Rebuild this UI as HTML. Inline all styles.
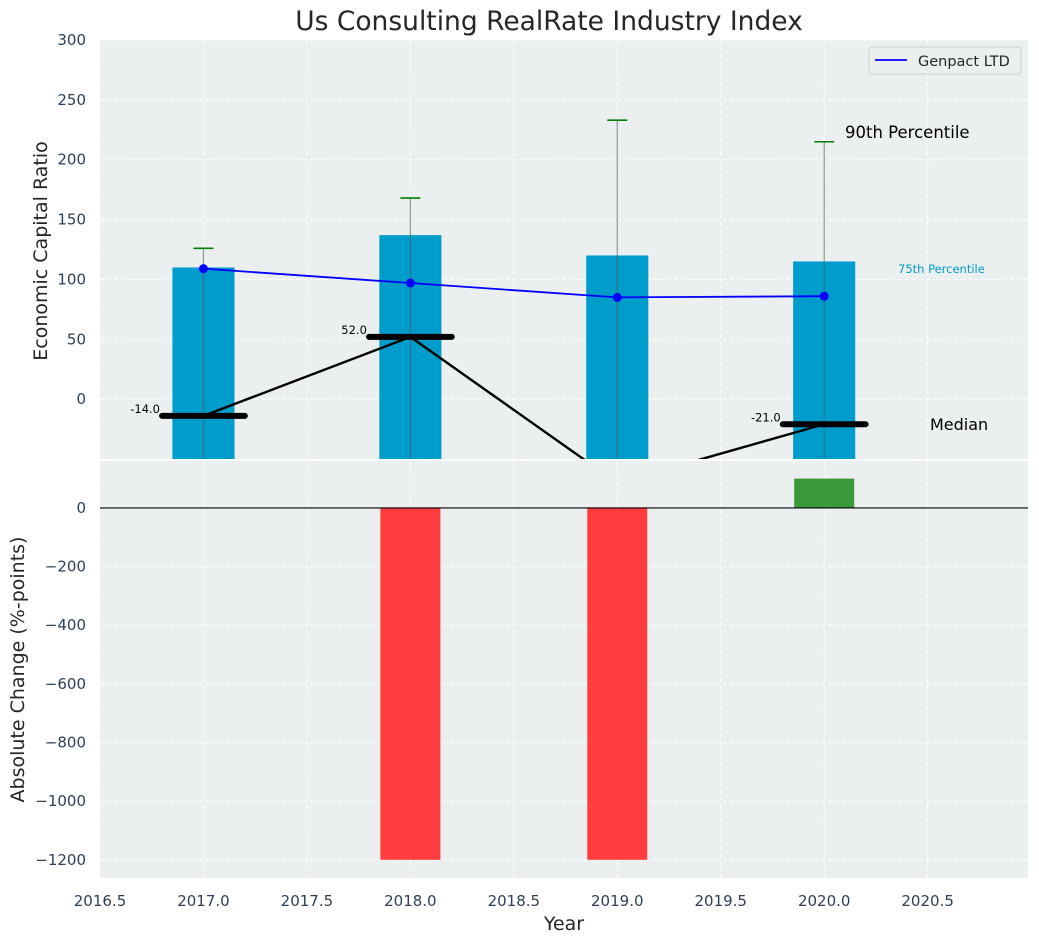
<!DOCTYPE html>
<html><head><meta charset="utf-8">
<style>
html,body{margin:0;padding:0;background:#fff;}
svg{display:block;font-family:"DejaVu Sans","Liberation Sans",sans-serif;}
</style></head>
<body>
<svg id="chart" width="1039" height="942" xmlns="http://www.w3.org/2000/svg">
</svg>
<script>
const years = [2017, 2018, 2019, 2020];
const barValues = [110, 137, 120, 115];
const p90Values = [126, 168, 233, 215];
const genpactValues = [109, 97, 85, 86];
const medianValues = [-14, 52, -70, -21];
const changeValues = [0, -1200, -1200, 100];
const xTicks = [2016.5, 2017.0, 2017.5, 2018.0, 2018.5, 2019.0, 2019.5, 2020.0, 2020.5];
const topYTicks = [0, 50, 100, 150, 200, 250, 300];
const botYTicks = [0, -200, -400, -600, -800, -1000, -1200];

const NS = "http://www.w3.org/2000/svg";
const svgEl = document.getElementById('chart');
const L = 100, R = 1028;
const xMin = 2016.5, xMax = 2020.985;
const xs = v => L + (v - xMin) / (xMax - xMin) * (R - L);
const T1 = 40, B1 = 459, y1Min = -50, y1Max = 300;
const ys1 = v => B1 - (v - y1Min) / (y1Max - y1Min) * (B1 - T1);
const T2 = 461, B2 = 878, y2Min = -1262, y2Max = 160;
const ys2 = v => B2 - (v - y2Min) / (y2Max - y2Min) * (B2 - T2);

function mk(tag, attrs, parent, text) {
  const e = document.createElementNS(NS, tag);
  for (const k in attrs) e.setAttribute(k, attrs[k]);
  if (text !== undefined) e.textContent = text;
  (parent || svgEl).appendChild(e);
  return e;
}

const defs = mk('defs', {});
const c1 = mk('clipPath', {id: 'clipTop'}, defs);
mk('rect', {x: L, y: T1, width: R - L, height: B1 - T1}, c1);
const c2 = mk('clipPath', {id: 'clipBot'}, defs);
mk('rect', {x: L, y: T2, width: R - L, height: B2 - T2}, c2);

const title = mk('text', {x: 549, y: 30, 'text-anchor': 'middle', 'font-size': 26.5, fill: '#262626'}, svgEl, 'Us Consulting RealRate Industry Index');



// ---------- TOP AXES ----------
const topG = mk('g', {});


const bg1 = mk('rect', {x: L, y: T1, width: R - L, height: B1 - T1, fill: '#ebeff0'}, topG);



xTicks.forEach(t => {
  const g = mk('line', {x1: xs(t), x2: xs(t), y1: T1, y2: B1, stroke: '#fff', 'stroke-dasharray': '4,3', 'stroke-width': 1}, topG);
  
  
});
topYTicks.forEach(t => {
  const g = mk('line', {x1: L, x2: R, y1: ys1(t), y2: ys1(t), stroke: '#fff', 'stroke-dasharray': '4,3', 'stroke-width': 1}, topG);
  
  
  const lb = mk('text', {x: L - 14, y: ys1(t) + 5, 'text-anchor': 'end', 'font-size': 15, fill: '#2e3f55'}, topG, String(t));
  
  
});

const plotTop = mk('g', {'clip-path': 'url(#clipTop)'}, topG);
years.forEach((yr, i) => {
  const bw = 0.3;
  const b = mk('rect', {x: xs(yr - bw / 2), y: ys1(barValues[i]), width: xs(yr + bw / 2) - xs(yr - bw / 2), height: B1 - ys1(barValues[i]), fill: '#009ccc'}, plotTop);
  
  
});
years.forEach((yr, i) => {
  const v = mk('line', {x1: xs(yr), x2: xs(yr), y1: ys1(p90Values[i]), y2: B1 + 5, stroke: '#555', 'stroke-opacity': 0.6, 'stroke-width': 1.2}, plotTop);
  
  
  const cap = mk('line', {x1: xs(yr) - 10, x2: xs(yr) + 10, y1: ys1(p90Values[i]), y2: ys1(p90Values[i]), stroke: 'green', 'stroke-width': 1.6}, plotTop);
  
  
});
const mpts = years.map((yr, i) => xs(yr) + ',' + ys1(medianValues[i])).join(' ');
const ml = mk('polyline', {points: mpts, fill: 'none', stroke: '#000', 'stroke-width': 2.4}, plotTop);


years.forEach((yr, i) => {
  const mb = mk('line', {x1: xs(yr - 0.2), x2: xs(yr + 0.2), y1: ys1(medianValues[i]), y2: ys1(medianValues[i]), stroke: '#000', 'stroke-width': 6, 'stroke-linecap': 'round'}, plotTop);
  
  
  const ml2 = mk('text', {x: xs(yr - 0.21), y: ys1(medianValues[i]) - 3, 'text-anchor': 'end', 'font-size': 11.5, fill: '#000'}, plotTop, medianValues[i].toFixed(1));
  
  
});
const gpts = years.map((yr, i) => xs(yr) + ',' + ys1(genpactValues[i])).join(' ');
const gl = mk('polyline', {points: gpts, fill: 'none', stroke: '#0000ff', 'stroke-width': 1.8}, plotTop);


years.forEach((yr, i) => {
  const p = mk('circle', {cx: xs(yr), cy: ys1(genpactValues[i]), r: 4.5, fill: '#0000ff'}, plotTop);
  
  
});

const a1 = mk('text', {x: 845, y: 138, 'font-size': 16.5, fill: '#000'}, topG, '90th Percentile');


const a2 = mk('text', {x: 898, y: 273, 'font-size': 11.5, fill: '#009ccc'}, topG, '75th Percentile');


const a3 = mk('text', {x: 930, y: 430, 'font-size': 16, fill: '#000'}, topG, 'Median');



const lg = mk('g', {}, topG);


mk('rect', {x: 869, y: 47, width: 152, height: 27, rx: 3, fill: '#ebeff0', stroke: '#d0d0d0', 'stroke-width': 1}, lg);
const ll = mk('line', {x1: 875, x2: 907, y1: 60, y2: 60, stroke: '#0000ff', 'stroke-width': 1.8}, lg);


const lt = mk('text', {x: 918, y: 66, 'font-size': 14.5, fill: '#262626'}, lg, 'Genpact LTD');



const yt1 = mk('text', {x: 0, y: 0, 'text-anchor': 'middle', 'font-size': 19, fill: '#262626', transform: 'translate(47,251) rotate(-90)'}, topG, 'Economic Capital Ratio');



// ---------- BOTTOM AXES ----------
const botG = mk('g', {});


const bg2 = mk('rect', {x: L, y: T2, width: R - L, height: B2 - T2, fill: '#ebeff0'}, botG);


xTicks.forEach(t => {
  const g = mk('line', {x1: xs(t), x2: xs(t), y1: T2, y2: B2, stroke: '#fff', 'stroke-dasharray': '4,3', 'stroke-width': 1}, botG);
  
  
  const lb = mk('text', {x: xs(t), y: 906, 'text-anchor': 'middle', 'font-size': 15, fill: '#2e3f55'}, botG, t.toFixed(1));
  
  
});
botYTicks.forEach(t => {
  const g = mk('line', {x1: L, x2: R, y1: ys2(t), y2: ys2(t), stroke: '#fff', 'stroke-dasharray': '4,3', 'stroke-width': 1}, botG);
  
  
  const lb = mk('text', {x: L - 14, y: ys2(t) + 5, 'text-anchor': 'end', 'font-size': 15, fill: '#2e3f55'}, botG, t < 0 ? '\u2212' + Math.abs(t) : String(t));
  
  
});
const plotBot = mk('g', {'clip-path': 'url(#clipBot)'}, botG);
years.forEach((yr, i) => {
  const v = changeValues[i];
  if (v === 0) return;
  const bw = 0.29;
  const y0 = ys2(Math.max(v, 0)), y1 = ys2(Math.min(v, 0));
  const b = mk('rect', {x: xs(yr - bw / 2), y: y0, width: xs(yr + bw / 2) - xs(yr - bw / 2), height: y1 - y0, fill: v < 0 ? '#ff3d3f' : '#3a9a3a'}, plotBot);
  
  
});
const zl = mk('line', {x1: L, x2: R, y1: ys2(0), y2: ys2(0), stroke: '#000', 'stroke-width': 1.2}, botG);



const yt2 = mk('text', {x: 0, y: 0, 'text-anchor': 'middle', 'font-size': 19, fill: '#262626', transform: 'translate(24,' + ((T2 + B2) / 2) + ') rotate(-90)'}, botG, 'Absolute Change (%-points)');


const xt = mk('text', {x: 564, y: 930, 'text-anchor': 'middle', 'font-size': 19, fill: '#262626'}, botG, 'Year');


</script>
</body></html>
